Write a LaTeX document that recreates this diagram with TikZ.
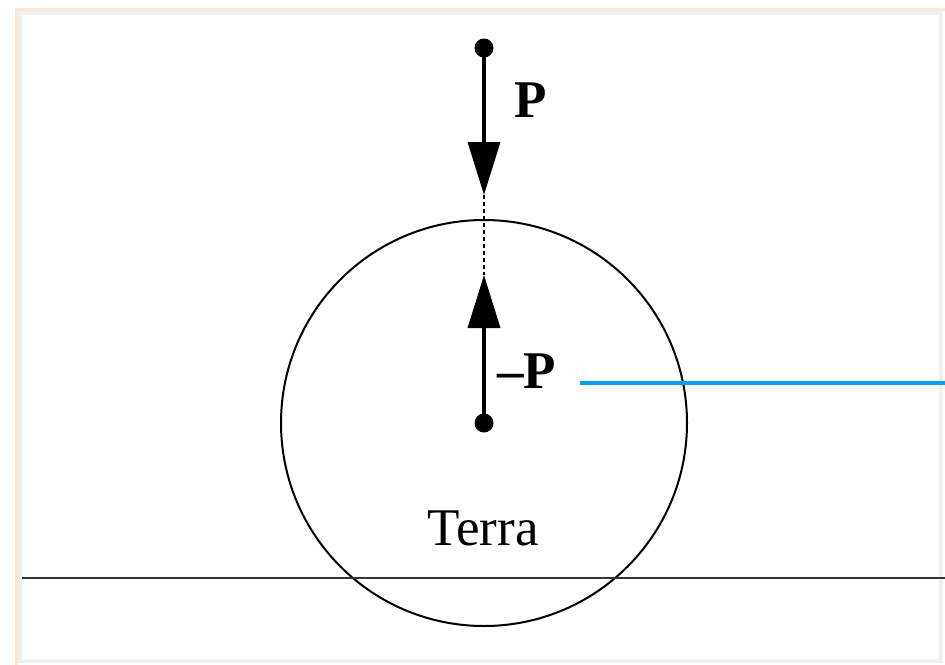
\documentclass[tikz,border=0pt]{standalone}
\usepackage{fontspec}
\setmainfont{Liberation Serif}
\usetikzlibrary{arrows.meta}
\definecolor{frameGrey}{RGB}{236, 241, 241}
\definecolor{frameGlow}{RGB}{255, 232, 208}
\definecolor{lineBlue}{RGB}{0, 162, 240}

\begin{document}
\begin{tikzpicture}[x=1pt, y=-1pt, line join=miter,
    force/.style={line width=3.6pt, -{Triangle[length=53pt, width=32pt]}},
    dot/.style={circle, fill=black, inner sep=0pt, minimum size=19pt},
    lbl/.style={inner sep=0pt, anchor=base west, font=\fontsize{53}{60}\selectfont\bfseries}]
        \useasboundingbox (0,0) rectangle (945,664);
        % page frame
        \draw[frameGlow, line width=3pt] (16,9) rectangle (948,668);
        \draw[frameGrey, line width=4pt] (20,13) rectangle (941,661);
        % earth and ground
        \node[circle, draw, line width=2pt, minimum size=406pt, inner sep=0pt] (terra) at (484,423) {};
        \draw[line width=2.4pt, black!80] (22,578) -- (945,578);
        \node[inner sep=0pt, anchor=base, font=\fontsize{53}{60}\selectfont] (name) at (483,545) {Terra};
        % the two forces
        \node[dot] (top) at (484,48) {};
        \node[dot] (mid) at (484,423) {};
        \coordinate (tipP) at (484,195);
        \coordinate (tipQ) at (484,275);
        \draw[force] (top.center) -- (tipP);
        \draw[force] (mid.center) -- (tipQ);
        \draw[line width=1.4pt, dash pattern=on 4pt off 3pt] (tipP) -- (tipQ);
        \node[lbl] (lblP) at (514,117) {P};
        \node[lbl] (lblQ) at (497,388) {–P};
        % blue pointer
        \coordinate (bl) at (580,383);
        \coordinate (br) at (945,383);
        \draw[lineBlue, line width=3.4pt] (bl) -- (br);
      \end{tikzpicture}
\end{document}
